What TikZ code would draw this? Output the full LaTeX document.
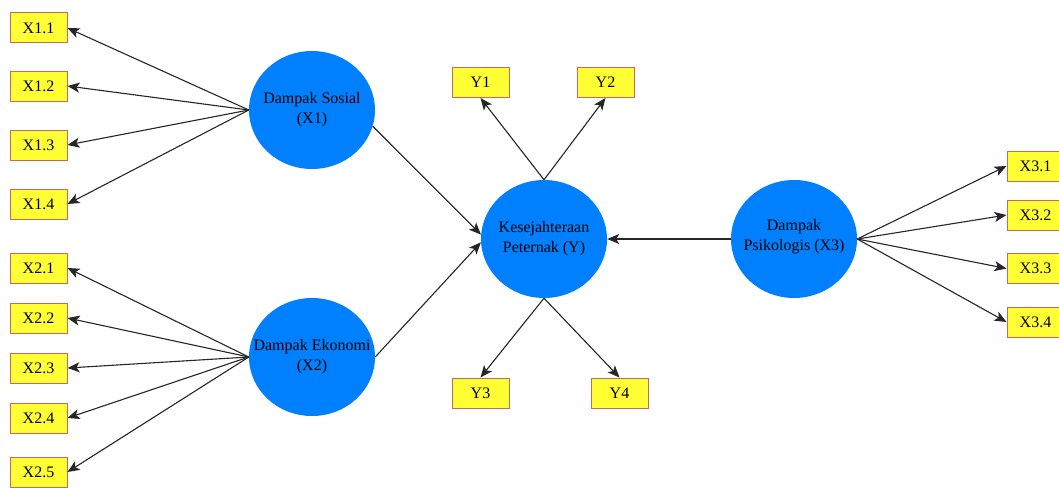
\documentclass[tikz,border=0pt]{standalone}
\usepackage{fontspec}
\setmainfont{Liberation Serif}
\usetikzlibrary{shapes.geometric,arrows.meta}
\definecolor{lvblue}{RGB}{0,128,255}
\definecolor{indyel}{RGB}{255,255,51}
\definecolor{indbrd}{RGB}{200,105,95}
\begin{document}
\begin{tikzpicture}[x=1pt,y=-1pt,
  lv/.style={ellipse, fill=lvblue, minimum width=126pt, minimum height=118pt, inner sep=0pt},
  lvtext/.style={align=center, inner sep=0pt, font=\rmfamily\fontsize{16}{20}\selectfont},
  ind/.style={rectangle, draw=indbrd, fill=indyel, line width=1pt, minimum width=57pt, minimum height=30pt, inner sep=0pt, font=\rmfamily\fontsize{16}{19}\selectfont},
  arr/.style={-{Stealth[length=12pt,width=10pt,inset=3pt]}, line width=1.1pt, draw=black!85}]
\useasboundingbox (0,0) rectangle (1059,487);
\fill[white] (0,0) rectangle (1059,487);
% latent variables
\node[lv] (X1) at (312,110) {};
\node[lvtext] (X1t) at (X1.center) {Dampak Sosial\\(X1)};
\node[lv] (X2) at (312,357) {};
\node[lvtext] (X2t) at (X2.center) {Dampak Ekonomi\\(X2)};
\node[lv] (Y) at (544,239) {};
\node[lvtext] (Yt) at (Y.center) {Kesejahteraan\\Peternak (Y)};
\node[lv] (X3) at (794,239) {};
\node[lvtext] (X3t) at ([yshift=2pt]X3.center) {Dampak\\Psikologis (X3)};
% indicators X1
\node[ind] (x11) at (38.5,28) {X1.1};
\node[ind] (x12) at (38.5,86) {X1.2};
\node[ind] (x13) at (38.5,145) {X1.3};
\node[ind] (x14) at (38.5,204) {X1.4};
% indicators X2
\node[ind] (x21) at (38.5,268) {X2.1};
\node[ind] (x22) at (38.5,318) {X2.2};
\node[ind] (x23) at (38.5,368) {X2.3};
\node[ind] (x24) at (38.5,418) {X2.4};
\node[ind] (x25) at (38.5,472) {X2.5};
% indicators Y
\node[ind] (y1) at (480.5,82.5) {Y1};
\node[ind] (y2) at (605.5,82.5) {Y2};
\node[ind] (y3) at (480.5,393) {Y3};
\node[ind] (y4) at (619.5,393) {Y4};
% indicators X3
\node[ind] (x31) at (1035.5,166) {X3.1};
\node[ind] (x32) at (1035.5,215) {X3.2};
\node[ind] (x33) at (1035.5,268.5) {X3.3};
\node[ind] (x34) at (1035.5,322) {X3.4};
% arrows
\foreach \t in {x11,x12,x13,x14} \draw[arr] (X1.west) -- (\t.east);
\foreach \t in {x21,x22,x23,x24,x25} \draw[arr] (X2.west) -- (\t.east);
\foreach \t in {x31,x32,x33,x34} \draw[arr] (X3.east) -- (\t.west);
\draw[arr] (Y.north) -- (y1.south);
\draw[arr] (Y.north) -- (y2.south);
\draw[arr] (Y.south) -- (y3.north);
\draw[arr] (Y.south) -- (y4.north);
\draw[arr] (X1.-15) -- (Y.176);
\draw[arr] (X2.0) -- (Y.183);
\draw[arr] (X3.west) -- (Y.east);
\end{tikzpicture}
\end{document}
